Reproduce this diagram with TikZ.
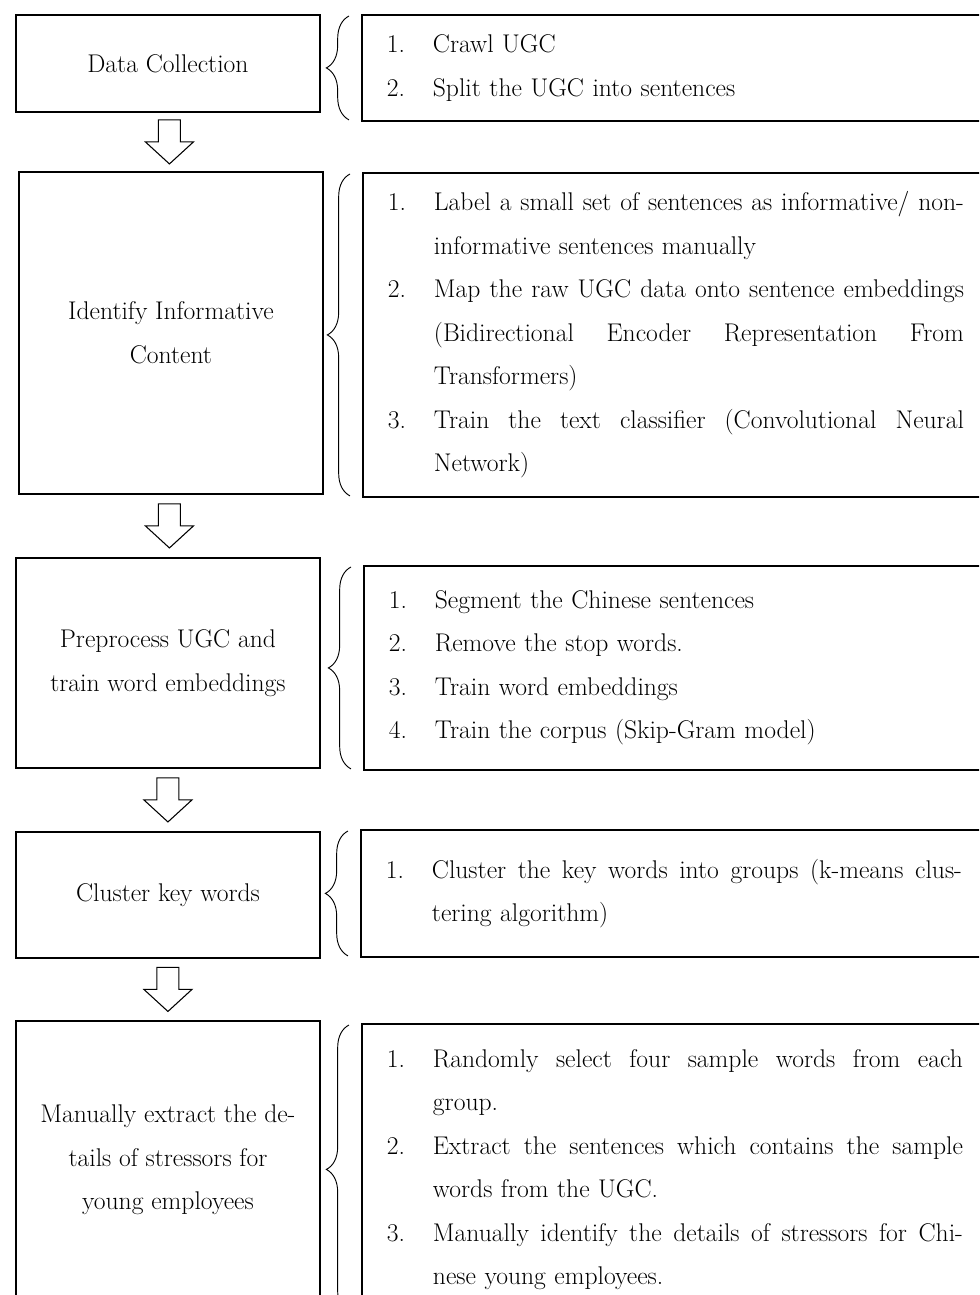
\documentclass[tikz,border=0pt]{standalone}
\usetikzlibrary{calc,decorations.pathreplacing}

\newcommand{\inum}[1]{\makebox[34.5pt][l]{#1}}
\newcommand{\jline}[1]{\makebox[397.5pt][s]{\spaceskip=0pt\xspaceskip=0pt #1}}
\newcommand{\ind}{\hspace*{34.5pt}}

\tikzset{
  stagebox/.style={draw,line width=1.4pt,minimum width=228pt,anchor=north west,
    align=center,font=\fontsize{19.2}{32.6}\selectfont},
  listbox/.style={draw,line width=1.4pt,anchor=north west,text width=432pt,
    inner xsep=18.75pt,align=left,font=\fontsize{19.2}{32.6}\selectfont},
  bracebar/.style={decorate,decoration={brace,amplitude=17pt},line width=0.7pt},
  arrowline/.style={line width=0.8pt},
  downarrow/.pic={\draw[arrowline] (-11,-22) -- (11,-22) -- (11,0) -- (24,0)
    -- (0,22) -- (-24,0) -- (-11,0) -- cycle;}
}

\begin{document}
\begin{tikzpicture}[x=0.75pt,y=-0.75pt]
\useasboundingbox (0,0) rectangle (979,1295);
\clip (0,0) rectangle (979,1295);

\node[stagebox,minimum height=72.75pt] (b1) at (15,14) {Data Collection};
\node[stagebox,minimum height=241.5pt] (b2) at (18,171) {Identify Informative\\Content};
\node[stagebox,minimum height=157.5pt] (b3) at (15,557) {Preprocess UGC and\\train word embeddings};
\node[stagebox,minimum height=94.5pt] (b4) at (15,831) {Cluster key words};
\node[stagebox,minimum height=208.5pt] (b5) at (15,1020) {Manually extract the de-\\tails of stressors for\\young employees};

\node[listbox,minimum height=79.5pt] (r1) at (361,14) {%
\inum{1.}Crawl UGC\\
\inum{2.}Split the UGC into sentences};
\node[listbox,minimum height=243pt] (r2) at (362,172) {%
\inum{1.}\jline{Label a small set of sentences as informative/ non-}\\
\ind informative sentences manually\\
\inum{2.}\jline{Map the raw UGC data onto sentence embeddings}\\
\ind\jline{(Bidirectional Encoder Representation From}\\
\ind Transformers)\\
\inum{3.}\jline{Train the text classifier (Convolutional Neural}\\
\ind Network)};
\node[listbox,minimum height=153pt] (r3) at (363,565) {%
\inum{1.}Segment the Chinese sentences\\
\inum{2.}Remove the stop words.\\
\inum{3.}Train word embeddings\\
\inum{4.}Train the corpus (Skip-Gram model)};
\node[listbox,minimum height=95.25pt] (r4) at (360,829) {%
\inum{1.}\jline{Cluster the key words into groups (k-means clus-}\\
\ind tering algorithm)};
\node[listbox,minimum height=218.25pt] (r5) at (361,1023) {%
\inum{1.}\jline{Randomly select four sample words from each}\\
\ind group.\\
\inum{2.}\jline{Extract the sentences which contains the sample}\\
\ind words from the UGC.\\
\inum{3.}\jline{Manually identify the details of stressors for Chi-}\\
\ind nese young employees.};

% braces between stage and its steps
\foreach \r in {r1,r2,r3,r4,r5}
  \draw[bracebar] ([xshift=-9pt,yshift=1.5pt]\r.south west) -- ([xshift=-9pt,yshift=-1.5pt]\r.north west);

% block arrows between stages
\foreach \a/\b in {b1/b2,b2/b3,b3/b4,b4/b5}
  \pic at ($(\a.south)!0.5!(\b.north)$) {downarrow};
\end{tikzpicture}
\end{document}
